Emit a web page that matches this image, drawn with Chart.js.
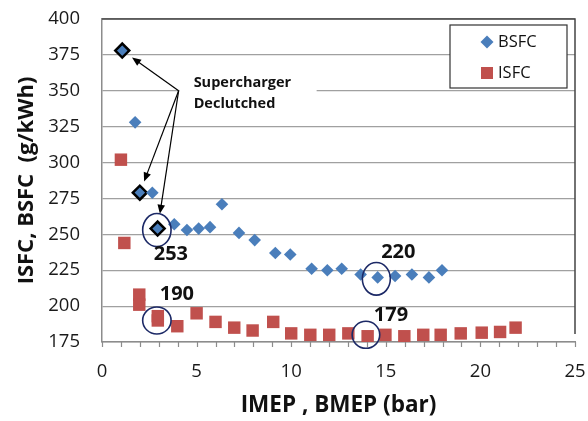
<!DOCTYPE html>
<html lang="en">
<head>
<meta charset="UTF-8">
<title>ISFC / BSFC vs IMEP / BMEP</title>
<script src="https://cdn.jsdelivr.net/npm/chart.js@4.4.0/dist/chart.umd.min.js"></script>
<style>
  html, body { margin: 0; padding: 0; background: #fff; }
  #wrap { width: 588px; height: 421px; }
</style>
</head>
<body>
<div id="wrap"><canvas id="chart" width="588" height="421"></canvas></div>
<script>
  // BSFC vs BMEP (blue diamonds)
  const bsfcX = [1.07, 1.75, 2.0, 2.66, 2.94, 3.82, 4.49, 5.11, 5.71, 6.34, 7.24, 8.07,
                 9.16, 9.95, 11.08, 11.91, 12.67, 13.67, 14.57, 15.49, 16.38, 17.28, 17.97];
  const bsfcY = [378, 328, 279, 279, 254, 257, 253, 254, 255, 271, 251, 246,
                 237, 236, 226, 225, 226, 222, 220, 221, 222, 220, 225];
  // points where the supercharger is declutched (index into bsfc arrays)
  const declutched = [0, 2, 4];

  // ISFC vs IMEP (red squares)
  const isfcX = [1.0, 1.18, 1.97, 1.97, 2.95, 2.95, 3.98, 5.0, 6.0, 6.99, 7.96, 9.05, 10.0,
                 11.01, 12.01, 13.02, 14.04, 14.98, 15.98, 16.98, 17.9, 18.96, 20.07, 21.04, 21.86];
  const isfcY = [302, 244, 208, 201, 193, 190, 186, 195, 189, 185, 183, 189, 181,
                 180, 180, 181, 179, 180, 179, 180, 180, 181, 181.5, 182, 185];

  // circled values
  const calloutX = [2.9, 2.9, 14.5, 13.95];
  const calloutY = [253, 190, 219, 180];
  const calloutLabels = ['253', '190', '220', '179'];

  const noteLines = ['Supercharger', 'Declutched'];
  const noteAnchor = [4.05, 350];

  const xTicksMin = 0, xTicksMax = 25, xLabelStep = 5;
  const yTicksMin = 175, yTicksMax = 400, yStep = 25;

  const blue = '#4a7ebb';
  const red = '#c0504d';
  const navy = '#1c2966';
  const axisGray = '#8c8c8c';
  const font = "'Open Sans', 'DejaVu Sans', sans-serif";

  const notesPlugin = {
    id: 'notes',
    beforeDatasetsDraw(chart) {
      const {ctx, chartArea: a, scales: {x, y}} = chart;
      ctx.save();
      // white background of the note text
      const ax = x.getPixelForValue(noteAnchor[0]);
      const ay = y.getPixelForValue(noteAnchor[1]);
      ctx.fillStyle = '#fff';
      ctx.fillRect(ax + 1, ay - 22, 137, 44);
      // legend box
      const lx = a.right - 125, ly = a.top + 6, lw = 117, lh = 63;
      ctx.fillRect(lx, ly, lw, lh);
      ctx.strokeStyle = '#333';
      ctx.lineWidth = 1.2;
      ctx.strokeRect(lx, ly, lw, lh);
      // frame on top and right
      ctx.strokeStyle = '#444';
      ctx.lineWidth = 1.5;
      ctx.beginPath();
      ctx.moveTo(a.left, a.top);
      ctx.lineTo(a.right, a.top);
      ctx.lineTo(a.right, a.bottom - 8);
      ctx.stroke();
      // small tick marks under the x axis, one per unit
      ctx.strokeStyle = axisGray;
      ctx.lineWidth = 1.2;
      ctx.beginPath();
      for (let v = xTicksMin; v <= xTicksMax; v++) {
        const px = Math.round(x.getPixelForValue(v)) + 0.5;
        ctx.moveTo(px, a.bottom);
        ctx.lineTo(px, a.bottom + 5);
      }
      ctx.stroke();
      ctx.restore();
    },
    afterDatasetsDraw(chart) {
      const {ctx, chartArea: a, scales: {x, y}} = chart;
      ctx.save();

      // legend entries
      const lx = a.right - 125, ly = a.top + 6;
      ctx.font = '16.5px ' + font;
      ctx.textBaseline = 'middle';
      ctx.textAlign = 'left';
      const mx = lx + 37;
      ctx.fillStyle = blue;
      ctx.beginPath();
      ctx.moveTo(mx - 6.5, ly + 17); ctx.lineTo(mx, ly + 10.5);
      ctx.lineTo(mx + 6.5, ly + 17); ctx.lineTo(mx, ly + 23.5);
      ctx.closePath(); ctx.fill();
      ctx.fillStyle = red;
      ctx.fillRect(mx - 6, ly + 42, 12, 12);
      ctx.fillStyle = '#111';
      ctx.fillText(chart.data.datasets[0].label, lx + 48, ly + 17);
      ctx.fillText(chart.data.datasets[1].label, lx + 48, ly + 48);

      // note text
      const ax = x.getPixelForValue(noteAnchor[0]);
      const ay = y.getPixelForValue(noteAnchor[1]);
      ctx.font = 'bold 14.5px ' + font;
      ctx.textBaseline = 'alphabetic';
      ctx.fillText(noteLines[0], ax + 15, ay - 4);
      ctx.fillText(noteLines[1], ax + 15, ay + 17);

      // arrows to the declutched points
      const gaps = [12, 12, 15];
      ctx.strokeStyle = '#000';
      ctx.fillStyle = '#000';
      ctx.lineWidth = 1.2;
      declutched.forEach((idx, k) => {
        const px = x.getPixelForValue(bsfcX[idx]);
        const py = y.getPixelForValue(bsfcY[idx]);
        const dx = px - ax, dy = py - ay;
        const len = Math.hypot(dx, dy);
        const ux = dx / len, uy = dy / len;
        const tx = px - ux * gaps[k], ty = py - uy * gaps[k];
        ctx.beginPath();
        ctx.moveTo(ax, ay);
        ctx.lineTo(tx - ux * 6, ty - uy * 6);
        ctx.stroke();
        ctx.beginPath();
        ctx.moveTo(tx, ty);
        ctx.lineTo(tx - ux * 9 - uy * 3.8, ty - uy * 9 + ux * 3.8);
        ctx.lineTo(tx - ux * 9 + uy * 3.8, ty - uy * 9 - ux * 3.8);
        ctx.closePath();
        ctx.fill();
      });

      // circles and values
      const radii = [[14.2, 16.5], [14.2, 13.5], [14, 16.3], [13.8, 13.5]];
      const offsets = [[14, 24], [20, -26], [22, -27], [25, -20]];
      ctx.strokeStyle = navy;
      ctx.lineWidth = 1.6;
      ctx.font = 'bold 20px ' + font;
      ctx.textAlign = 'center';
      ctx.textBaseline = 'middle';
      calloutX.forEach((cxv, i) => {
        const cx = x.getPixelForValue(cxv);
        const cy = y.getPixelForValue(calloutY[i]);
        ctx.beginPath();
        ctx.ellipse(cx, cy, radii[i][0], radii[i][1], 0, 0, Math.PI * 2);
        ctx.stroke();
        ctx.fillStyle = '#111';
        ctx.fillText(calloutLabels[i], cx + offsets[i][0], cy + offsets[i][1]);
      });
      ctx.restore();
    }
  };

  const isDecl = c => declutched.includes(c.dataIndex);

  new Chart(document.getElementById('chart'), {
    type: 'scatter',
    data: {
      datasets: [{
        label: 'BSFC',
        data: bsfcX.map((v, i) => ({x: v, y: bsfcY[i]})),
        backgroundColor: blue,
        pointStyle: 'rectRot',
        pointRadius: c => isDecl(c) ? 7 : 6.3,
        pointBorderWidth: c => isDecl(c) ? 2.5 : 0,
        pointBorderColor: c => isDecl(c) ? '#000' : blue
      }, {
        label: 'ISFC',
        data: isfcX.map((v, i) => ({x: v, y: isfcY[i]})),
        backgroundColor: red,
        pointStyle: 'rect',
        pointRadius: 8.8,
        pointBorderWidth: 0
      }]
    },
    options: {
      responsive: false,
      animation: false,
      layout: { padding: { top: 19, right: 13, left: 0, bottom: 0 } },
      plugins: {
        legend: { display: false },
        tooltip: { enabled: false }
      },
      scales: {
        x: {
          type: 'linear',
          min: xTicksMin,
          max: xTicksMax,
          afterFit: s => { s.height = 79; },
          border: { color: axisGray, width: 1.5 },
          grid: { drawOnChartArea: false, drawTicks: true, tickLength: 19, tickColor: 'rgba(0,0,0,0)' },
          ticks: {
            stepSize: xLabelStep,
            autoSkip: false,
            maxRotation: 0,
            padding: 0,
            color: '#1a1a1a',
            font: { family: font, size: 18.5 }
          },
          title: {
            display: true,
            text: 'IMEP , BMEP (bar)',
            color: '#111',
            font: { family: font, size: 22.5, weight: 'bold' },
            padding: { top: 0, bottom: 2 }
          }
        },
        y: {
          min: yTicksMin,
          max: yTicksMax,
          afterFit: s => { s.width = 102; },
          border: { color: axisGray, width: 1.5 },
          grid: { color: '#a0a0a0', lineWidth: 1.2, drawTicks: true, tickLength: 20, tickColor: 'rgba(0,0,0,0)' },
          ticks: {
            stepSize: yStep,
            padding: 2,
            color: '#1a1a1a',
            font: { family: font, size: 18.5 }
          },
          title: {
            display: true,
            text: 'ISFC, BSFC  (g/kWh)',
            color: '#111',
            font: { family: font, size: 22, weight: 'bold' },
            padding: { top: 14, bottom: 0 }
          }
        }
      }
    },
    plugins: [notesPlugin]
  });
</script>
</body>
</html>
